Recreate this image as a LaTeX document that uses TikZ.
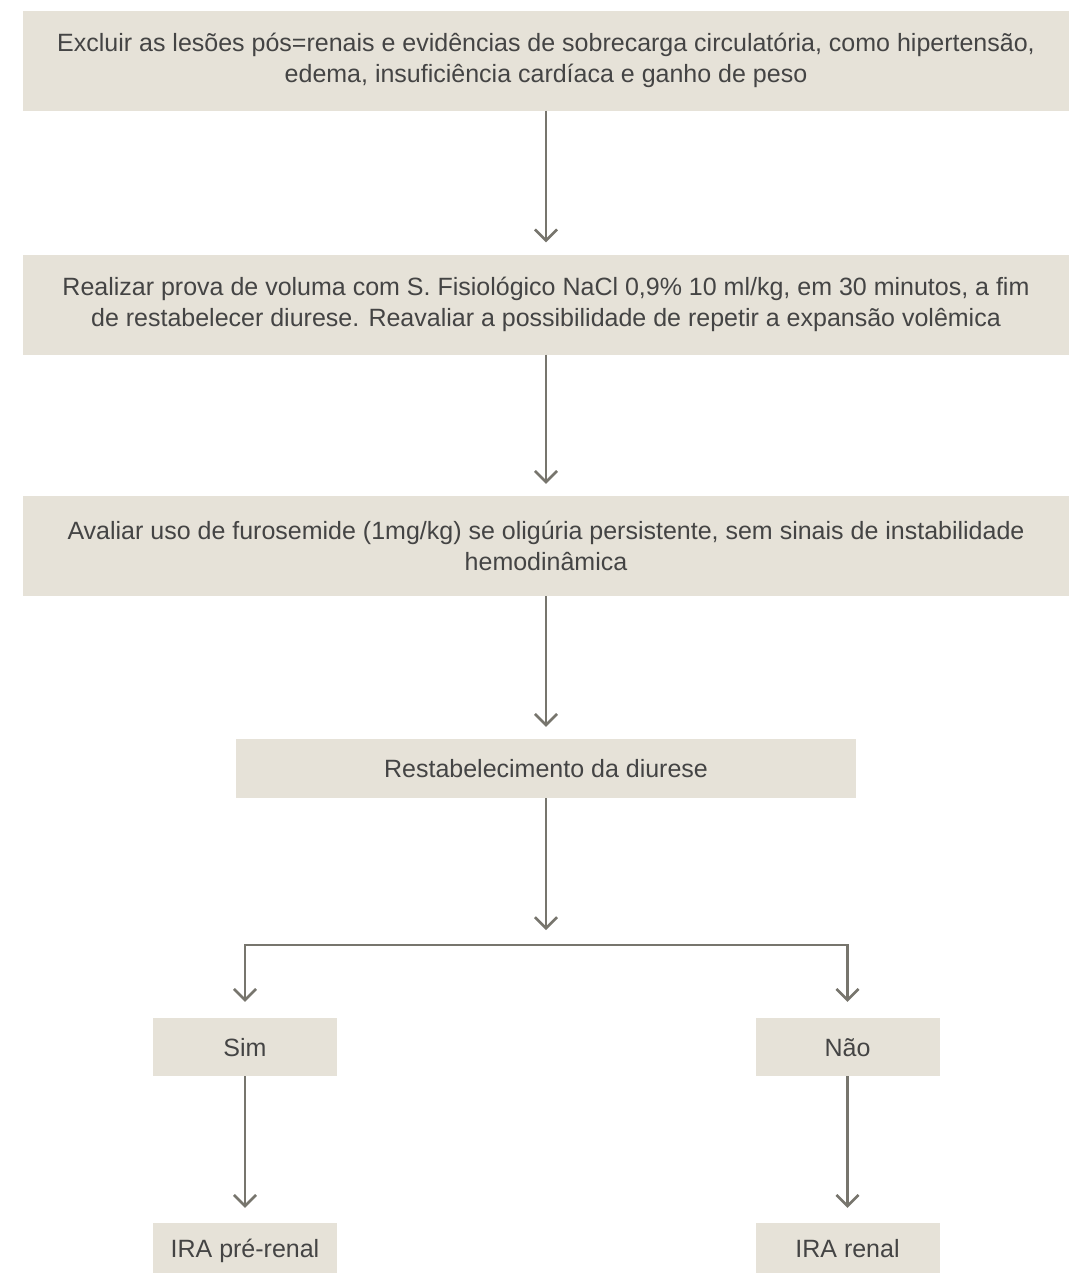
\documentclass[tikz,border=0pt]{standalone}
\usepackage{fontspec}
\setmainfont{Liberation Sans}
\usetikzlibrary{arrows.meta, positioning}

\definecolor{boxfill}{HTML}{E6E2D8}
\definecolor{linegray}{HTML}{77756D}
\definecolor{textgray}{HTML}{444444}

\begin{document}
\begin{tikzpicture}[
        x=1pt, y=-1pt,
        font=\fontsize{25}{31}\selectfont,
        box/.style = {fill=boxfill, text=textgray, align=center, inner sep=0pt, minimum height=100pt}, % Caixas largas
        widebox/.style = {box, minimum width=1046pt},
        smallbox/.style = {box, minimum width=184pt, minimum height=58pt, text height=20pt, text depth=2pt},
        ln/.style = {draw=linegray, line width=2.6pt},
        arr/.style = {ln, -{Straight Barb[length=11pt, width=22pt]}, shorten >=12pt},
    ]

    \useasboundingbox (0,0) rectangle (1074,1274);

    \node[widebox] (excluir) at (546,60.5) {Excluir as lesões pós=renais e evidências de sobrecarga circulatória, como hipertensão,\\ edema, insuficiência cardíaca e ganho de peso};
    \node[widebox] (prova) at (546,304.5) {Realizar prova de voluma com S. Fisiológico NaCl 0,9\% 10 ml/kg, em 30 minutos, a fim\\ de restabelecer diurese. Reavaliar a possibilidade de repetir a expansão volêmica};
    \node[widebox] (furosemide) at (546,546) {Avaliar uso de furosemide (1mg/kg) se oligúria persistente, sem sinais de instabilidade\\ hemodinâmica};
    \node[smallbox, minimum width=620pt, minimum height=59pt] (restab) at (546,768.5) {Restabelecimento da diurese};

    \node[smallbox] (sim) at (245,1047) {Sim};
    \node[smallbox] (nao) at (847.5,1047) {Não};
    \node[smallbox, minimum height=50pt] (prerenal) at (245,1248) {IRA pré-renal};
    \node[smallbox, minimum height=50pt] (renal) at (847.5,1248) {IRA renal};

    \coordinate (split) at (546,945);
    \coordinate (splitL) at (245,945);
    \coordinate (splitR) at (847.5,945);

    \draw[arr] (excluir) -- (prova);
    \draw[arr] (prova) -- (furosemide);
    \draw[arr] (furosemide) -- (restab);
    \draw[arr, shorten >=15pt] (restab) -- (split);
    \draw[ln, line cap=rect] (splitL) -- (splitR);
    \draw[arr, shorten >=16pt] (splitL) -- (sim);
    \draw[arr, shorten >=16pt] (splitR) -- (nao);
    \draw[arr, shorten >=15pt] (sim) -- (prerenal);
    \draw[arr, shorten >=15pt] (nao) -- (renal);

\end{tikzpicture}
\end{document}
